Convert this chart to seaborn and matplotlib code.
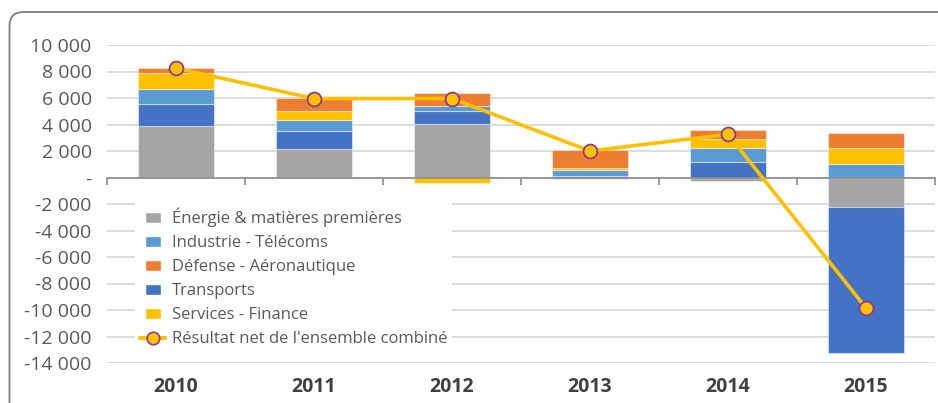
import numpy as np
import matplotlib
matplotlib.use("Agg")
import matplotlib.pyplot as plt
import matplotlib.patches as mpatches
from matplotlib.lines import Line2D
from matplotlib.legend_handler import HandlerPatch
from matplotlib.ticker import FixedLocator, FuncFormatter
import seaborn as sns

# Résultats par secteur (M€), empilés de bas en haut dans cet ordre
years = ["2010", "2011", "2012", "2013", "2014", "2015"]
energie = [3850, 2150, 4030, -100, -300, -2200]
transports = [1680, 1370, 960, 130, 1200, -11070]
industrie = [1160, 840, 410, 420, 990, 1020]
services = [1170, 630, -430, 150, 710, 1210]
defense = [400, 990, 990, 1400, 660, 1140]
resultat_net = [8250, 5960, 5960, 2000, 3260, -9850]

lbl_energie = "Énergie & matières premières"
lbl_industrie = "Industrie - Télécoms"
lbl_defense = "Défense - Aéronautique"
lbl_transports = "Transports"
lbl_services = "Services - Finance"
lbl_net = "Résultat net de l'ensemble combiné"

C_GRAY, C_LBLUE, C_ORANGE, C_DBLUE, C_YELLOW = "#A5A5A5", "#5B9BD5", "#ED7D31", "#4472C4", "#FFC000"
C_MARKER_EDGE = "#8E3A8E"
C_TEXT = "#595959"

sns.set_theme(style="white")
plt.rcParams["font.family"] = ["Open Sans", "DejaVu Sans"]

fig = plt.figure(figsize=(9.38, 4.03), dpi=100)
W, H = 938, 403
ax = fig.add_axes([107 / W, 1 - 363 / H, (935 - 107) / W, (363 - 45) / H])

stack = [
    (energie, C_GRAY),
    (transports, C_DBLUE),
    (industrie, C_LBLUE),
    (services, C_YELLOW),
    (defense, C_ORANGE),
]

pos_base = np.zeros(len(years))
neg_base = np.zeros(len(years))
for vals, color in stack:
    v = np.asarray(vals, dtype=float)
    bottom = np.where(v >= 0, pos_base, neg_base)
    sns.barplot(x=years, y=v, bottom=bottom, color=color, saturation=1,
                width=0.556, errorbar=None, ax=ax, zorder=2,
                edgecolor=(1, 1, 1, 0.45), linewidth=0.8)
    pos_base += np.clip(v, 0, None)
    neg_base += np.clip(v, None, 0)

sns.pointplot(x=years, y=resultat_net, color=C_YELLOW, errorbar=None, ax=ax,
              markers="o", markersize=10, linewidth=2.6,
              markeredgecolor=C_MARKER_EDGE, markeredgewidth=1.3, zorder=5)

# axes
ax.set_xlim(-0.5, len(years) - 0.5)
ax.set_ylim(-14000, 10000)
ax.yaxis.set_major_locator(FixedLocator(np.arange(-14000, 10001, 2000)))


def fmt(v, _):
    v = int(round(v))
    if v == 0:
        return "-"
    return f"{v:,}".replace(",", " ")


ax.yaxis.set_major_formatter(FuncFormatter(fmt))
ax.tick_params(axis="y", length=0, pad=11, labelsize=14, labelcolor=C_TEXT)
ax.yaxis.grid(True, color="#D9D9D9", linewidth=1.3)
ax.set_axisbelow(True)
ax.set_xlabel("")
ax.set_ylabel("")

for s in ("left", "top", "right"):
    ax.spines[s].set_visible(False)
ax.spines["bottom"].set_position(("data", 0))
ax.spines["bottom"].set_color("#8C8C8C")
ax.spines["bottom"].set_linewidth(1.2)
ax.spines["bottom"].set_zorder(3)
ax.set_xticks(np.arange(-0.5, len(years), 1))
ax.tick_params(axis="x", length=5, width=1.2, color="#8C8C8C", direction="out",
               labelbottom=False, bottom=True)

sec = ax.secondary_xaxis("bottom")
sec.set_xticks(range(len(years)), years)
sec.tick_params(length=0, pad=10, labelsize=14, labelcolor="#404040")
for t in sec.get_xticklabels():
    t.set_fontweight("bold")
sec.spines["bottom"].set_visible(False)


# legend
def small_rect(legend, orig_handle, xdescent, ydescent, width, height, fontsize):
    return mpatches.Rectangle((-xdescent + width * 0.18, -ydescent), width * 0.64, height)


handles = [
    mpatches.Patch(facecolor=C_GRAY, label=lbl_energie),
    mpatches.Patch(facecolor=C_LBLUE, label=lbl_industrie),
    mpatches.Patch(facecolor=C_ORANGE, label=lbl_defense),
    mpatches.Patch(facecolor=C_DBLUE, label=lbl_transports),
    mpatches.Patch(facecolor=C_YELLOW, label=lbl_services),
    Line2D([], [], color=C_YELLOW, lw=3, marker="o", markersize=9,
           markerfacecolor=C_YELLOW, markeredgecolor=C_MARKER_EDGE,
           markeredgewidth=1.2, label=lbl_net),
]
leg = ax.legend(handles=handles, loc="upper left", bbox_to_anchor=(0.024, 0.53),
                frameon=True, facecolor="white", edgecolor="none", framealpha=1,
                fancybox=False, fontsize=12, handlelength=1.5, handleheight=0.65,
                handletextpad=0.4, labelspacing=0.48, borderpad=0.3,
                handler_map={mpatches.Patch: HandlerPatch(patch_func=small_rect)})
for t in leg.get_texts():
    t.set_color(C_TEXT)
leg.set_zorder(6)

# outer rounded frame
frame = mpatches.FancyBboxPatch((0.095, -0.6), 10.0, 3.91 + 0.6,
                                boxstyle="round,pad=0,rounding_size=0.14",
                                transform=fig.dpi_scale_trans, facecolor="none",
                                edgecolor="#7F7F7F", linewidth=1.3, clip_on=False)
fig.patches.append(frame)

fig.savefig("out.png", dpi=100)
